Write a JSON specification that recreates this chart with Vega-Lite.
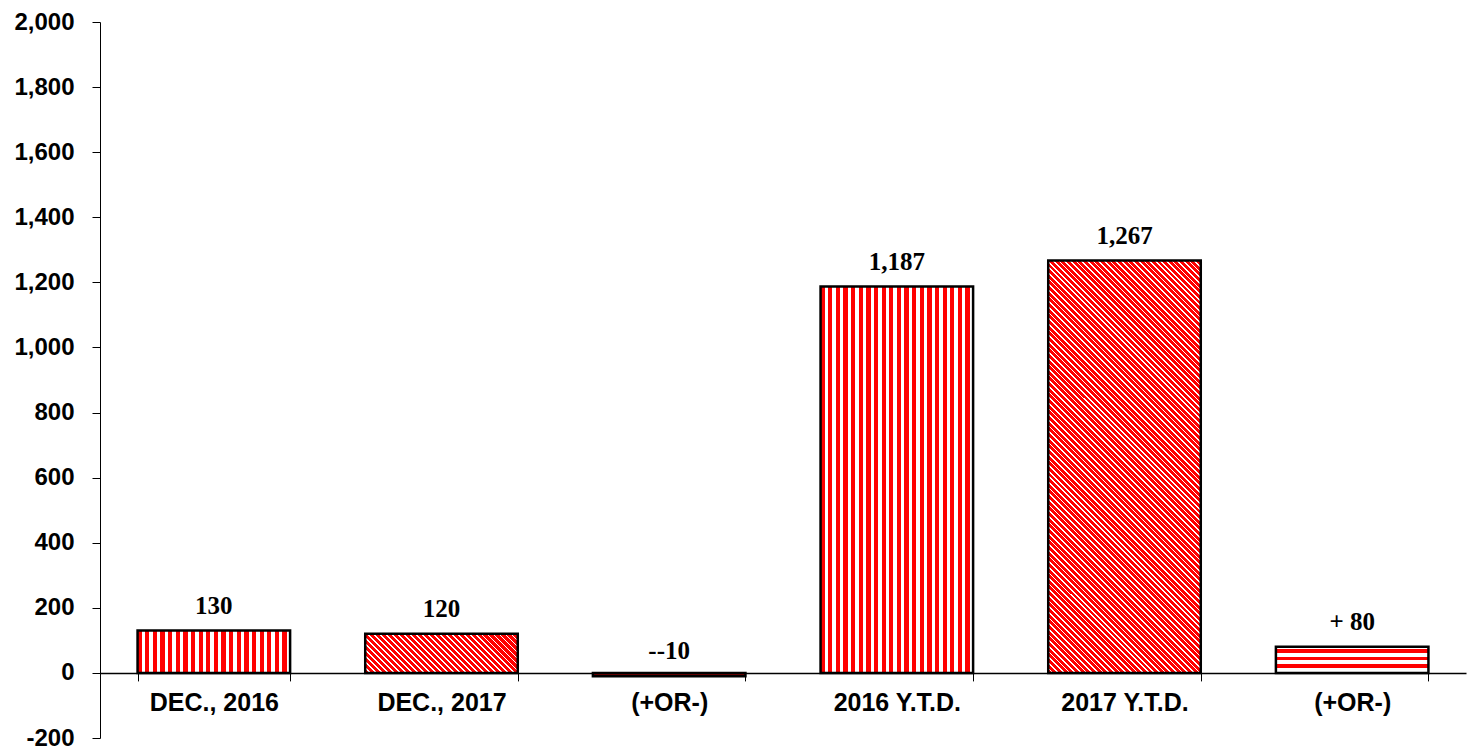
{
"$schema": "https://vega.github.io/schema/vega-lite/v6.json",
"width": 1366,
"height": 716,
"autosize": {"type": "none"},
"padding": {"left": 100, "top": 22, "right": 11, "bottom": 14},
"background": "white",
"config": {"view": {"stroke": null}},
"data": {"values": [
{"cat": "DEC., 2016", "value": 130, "label": "130"},
{"cat": "DEC., 2017", "value": 120, "label": "120"},
{"cat": "(+OR-)", "value": -10, "label": "--10"},
{"cat": "2016 Y.T.D.", "value": 1187, "label": "1,187"},
{"cat": "2017 Y.T.D.", "value": 1267, "label": "1,267"},
{"cat": "(+OR-) ", "value": 80, "label": "+ 80"}
]},
"encoding": {
"x": {"field": "cat", "type": "nominal", "title": null,
 "scale": {"domain": ["DEC., 2016", "DEC., 2017", "(+OR-)", "2016 Y.T.D.", "2017 Y.T.D.", "(+OR-) "], "paddingInner": 0.33, "paddingOuter": 0.165},
 "axis": {"orient": "bottom", "offset": -65.09, "domainColor": "black", "domainWidth": 1.5, "tickColor": "black", "tickSize": 8, "tickBand": "extent", "labelFont": "Liberation Sans", "labelFontWeight": "bold", "labelFontSize": 25, "labelColor": "black", "labelPadding": 10, "labelAngle": 0, "labelExpr": "trim(datum.label)"}},
"y": {"field": "value", "type": "quantitative", "title": null,
 "scale": {"domain": [-200, 2000], "nice": false},
 "axis": {"values": [-200, 0, 200, 400, 600, 800, 1000, 1200, 1400, 1600, 1800, 2000], "grid": false, "domainColor": "black", "tickColor": "black", "tickSize": 8, "labelFont": "Liberation Sans", "labelFontWeight": "bold", "labelFontSize": 24, "labelColor": "black", "labelPadding": 18, "labelExpr": "datum.value < 0 ? '-' + format(-datum.value, ',') : format(datum.value, ',')"}}
},
"layer": [
{"transform": [{"filter": "datum.cat == 'DEC., 2016' || datum.cat == '2016 Y.T.D.'"}],
 "mark": {"type": "bar", "stroke": "black", "strokeWidth": 2.5, "fill": {"gradient": "linear", "x1": 0, "y1": 0, "x2": 1, "y2": 0, "stops": [
{"offset":0,"color":"red"},{"offset":0.0275,"color":"red"},{"offset":0.0275,"color":"white"},{"offset":0.05,"color":"white"},
{"offset":0.05,"color":"red"},{"offset":0.0775,"color":"red"},{"offset":0.0775,"color":"white"},{"offset":0.1,"color":"white"},
{"offset":0.1,"color":"red"},{"offset":0.1275,"color":"red"},{"offset":0.1275,"color":"white"},{"offset":0.15,"color":"white"},
{"offset":0.15,"color":"red"},{"offset":0.1775,"color":"red"},{"offset":0.1775,"color":"white"},{"offset":0.2,"color":"white"},
{"offset":0.2,"color":"red"},{"offset":0.2275,"color":"red"},{"offset":0.2275,"color":"white"},{"offset":0.25,"color":"white"},
{"offset":0.25,"color":"red"},{"offset":0.2775,"color":"red"},{"offset":0.2775,"color":"white"},{"offset":0.3,"color":"white"},
{"offset":0.3,"color":"red"},{"offset":0.3275,"color":"red"},{"offset":0.3275,"color":"white"},{"offset":0.35,"color":"white"},
{"offset":0.35,"color":"red"},{"offset":0.3775,"color":"red"},{"offset":0.3775,"color":"white"},{"offset":0.4,"color":"white"},
{"offset":0.4,"color":"red"},{"offset":0.4275,"color":"red"},{"offset":0.4275,"color":"white"},{"offset":0.45,"color":"white"},
{"offset":0.45,"color":"red"},{"offset":0.4775,"color":"red"},{"offset":0.4775,"color":"white"},{"offset":0.5,"color":"white"},
{"offset":0.5,"color":"red"},{"offset":0.5275,"color":"red"},{"offset":0.5275,"color":"white"},{"offset":0.55,"color":"white"},
{"offset":0.55,"color":"red"},{"offset":0.5775,"color":"red"},{"offset":0.5775,"color":"white"},{"offset":0.6,"color":"white"},
{"offset":0.6,"color":"red"},{"offset":0.6275,"color":"red"},{"offset":0.6275,"color":"white"},{"offset":0.65,"color":"white"},
{"offset":0.65,"color":"red"},{"offset":0.6775,"color":"red"},{"offset":0.6775,"color":"white"},{"offset":0.7,"color":"white"},
{"offset":0.7,"color":"red"},{"offset":0.7275,"color":"red"},{"offset":0.7275,"color":"white"},{"offset":0.75,"color":"white"},
{"offset":0.75,"color":"red"},{"offset":0.7775,"color":"red"},{"offset":0.7775,"color":"white"},{"offset":0.8,"color":"white"},
{"offset":0.8,"color":"red"},{"offset":0.8275,"color":"red"},{"offset":0.8275,"color":"white"},{"offset":0.85,"color":"white"},
{"offset":0.85,"color":"red"},{"offset":0.8775,"color":"red"},{"offset":0.8775,"color":"white"},{"offset":0.9,"color":"white"},
{"offset":0.9,"color":"red"},{"offset":0.9275,"color":"red"},{"offset":0.9275,"color":"white"},{"offset":0.95,"color":"white"},
{"offset":0.95,"color":"red"},{"offset":0.9775,"color":"red"},{"offset":0.9775,"color":"white"},{"offset":1,"color":"white"}
]}}},
{"transform": [{"filter": "datum.cat == 'DEC., 2017'"}],
 "mark": {"type": "bar", "stroke": "black", "strokeWidth": 2.5, "fill": {"gradient": "linear", "x1": 0, "y1": 1, "x2": 1.1788, "y2": 0.6982, "stops": [
{"offset":0,"color":"red"},{"offset":0.021875,"color":"red"},{"offset":0.021875,"color":"white"},{"offset":0.03125,"color":"white"},
{"offset":0.03125,"color":"red"},{"offset":0.053125,"color":"red"},{"offset":0.053125,"color":"white"},{"offset":0.0625,"color":"white"},
{"offset":0.0625,"color":"red"},{"offset":0.084375,"color":"red"},{"offset":0.084375,"color":"white"},{"offset":0.09375,"color":"white"},
{"offset":0.09375,"color":"red"},{"offset":0.115625,"color":"red"},{"offset":0.115625,"color":"white"},{"offset":0.125,"color":"white"},
{"offset":0.125,"color":"red"},{"offset":0.146875,"color":"red"},{"offset":0.146875,"color":"white"},{"offset":0.15625,"color":"white"},
{"offset":0.15625,"color":"red"},{"offset":0.178125,"color":"red"},{"offset":0.178125,"color":"white"},{"offset":0.1875,"color":"white"},
{"offset":0.1875,"color":"red"},{"offset":0.209375,"color":"red"},{"offset":0.209375,"color":"white"},{"offset":0.21875,"color":"white"},
{"offset":0.21875,"color":"red"},{"offset":0.240625,"color":"red"},{"offset":0.240625,"color":"white"},{"offset":0.25,"color":"white"},
{"offset":0.25,"color":"red"},{"offset":0.271875,"color":"red"},{"offset":0.271875,"color":"white"},{"offset":0.28125,"color":"white"},
{"offset":0.28125,"color":"red"},{"offset":0.303125,"color":"red"},{"offset":0.303125,"color":"white"},{"offset":0.3125,"color":"white"},
{"offset":0.3125,"color":"red"},{"offset":0.334375,"color":"red"},{"offset":0.334375,"color":"white"},{"offset":0.34375,"color":"white"},
{"offset":0.34375,"color":"red"},{"offset":0.365625,"color":"red"},{"offset":0.365625,"color":"white"},{"offset":0.375,"color":"white"},
{"offset":0.375,"color":"red"},{"offset":0.396875,"color":"red"},{"offset":0.396875,"color":"white"},{"offset":0.40625,"color":"white"},
{"offset":0.40625,"color":"red"},{"offset":0.428125,"color":"red"},{"offset":0.428125,"color":"white"},{"offset":0.4375,"color":"white"},
{"offset":0.4375,"color":"red"},{"offset":0.459375,"color":"red"},{"offset":0.459375,"color":"white"},{"offset":0.46875,"color":"white"},
{"offset":0.46875,"color":"red"},{"offset":0.490625,"color":"red"},{"offset":0.490625,"color":"white"},{"offset":0.5,"color":"white"},
{"offset":0.5,"color":"red"},{"offset":0.521875,"color":"red"},{"offset":0.521875,"color":"white"},{"offset":0.53125,"color":"white"},
{"offset":0.53125,"color":"red"},{"offset":0.553125,"color":"red"},{"offset":0.553125,"color":"white"},{"offset":0.5625,"color":"white"},
{"offset":0.5625,"color":"red"},{"offset":0.584375,"color":"red"},{"offset":0.584375,"color":"white"},{"offset":0.59375,"color":"white"},
{"offset":0.59375,"color":"red"},{"offset":0.615625,"color":"red"},{"offset":0.615625,"color":"white"},{"offset":0.625,"color":"white"},
{"offset":0.625,"color":"red"},{"offset":0.646875,"color":"red"},{"offset":0.646875,"color":"white"},{"offset":0.65625,"color":"white"},
{"offset":0.65625,"color":"red"},{"offset":0.678125,"color":"red"},{"offset":0.678125,"color":"white"},{"offset":0.6875,"color":"white"},
{"offset":0.6875,"color":"red"},{"offset":0.709375,"color":"red"},{"offset":0.709375,"color":"white"},{"offset":0.71875,"color":"white"},
{"offset":0.71875,"color":"red"},{"offset":0.740625,"color":"red"},{"offset":0.740625,"color":"white"},{"offset":0.75,"color":"white"},
{"offset":0.75,"color":"red"},{"offset":0.771875,"color":"red"},{"offset":0.771875,"color":"white"},{"offset":0.78125,"color":"white"},
{"offset":0.78125,"color":"red"},{"offset":0.803125,"color":"red"},{"offset":0.803125,"color":"white"},{"offset":0.8125,"color":"white"},
{"offset":0.8125,"color":"red"},{"offset":0.834375,"color":"red"},{"offset":0.834375,"color":"white"},{"offset":0.84375,"color":"white"},
{"offset":0.84375,"color":"red"},{"offset":0.865625,"color":"red"},{"offset":0.865625,"color":"white"},{"offset":0.875,"color":"white"},
{"offset":0.875,"color":"red"},{"offset":0.896875,"color":"red"},{"offset":0.896875,"color":"white"},{"offset":0.90625,"color":"white"},
{"offset":0.90625,"color":"red"},{"offset":0.928125,"color":"red"},{"offset":0.928125,"color":"white"},{"offset":0.9375,"color":"white"},
{"offset":0.9375,"color":"red"},{"offset":0.959375,"color":"red"},{"offset":0.959375,"color":"white"},{"offset":0.96875,"color":"white"},
{"offset":0.96875,"color":"red"},{"offset":0.990625,"color":"red"},{"offset":0.990625,"color":"white"},{"offset":1,"color":"white"}
]}}},
{"transform": [{"filter": "datum.cat == '2017 Y.T.D.'"}],
 "mark": {"type": "bar", "stroke": "black", "strokeWidth": 2.5, "fill": {"gradient": "linear", "x1": 0, "y1": 1, "x2": 0.4457, "y2": -0.205, "stops": [
{"offset":0.00,"color":"red"},{"offset":0.007,"color":"red"},{"offset":0.007,"color":"white"},{"offset":0.01,"color":"white"},
{"offset":0.01,"color":"red"},{"offset":0.017,"color":"red"},{"offset":0.017,"color":"white"},{"offset":0.02,"color":"white"},
{"offset":0.02,"color":"red"},{"offset":0.027,"color":"red"},{"offset":0.027,"color":"white"},{"offset":0.03,"color":"white"},
{"offset":0.03,"color":"red"},{"offset":0.037,"color":"red"},{"offset":0.037,"color":"white"},{"offset":0.04,"color":"white"},
{"offset":0.04,"color":"red"},{"offset":0.047,"color":"red"},{"offset":0.047,"color":"white"},{"offset":0.05,"color":"white"},
{"offset":0.05,"color":"red"},{"offset":0.057,"color":"red"},{"offset":0.057,"color":"white"},{"offset":0.06,"color":"white"},
{"offset":0.06,"color":"red"},{"offset":0.067,"color":"red"},{"offset":0.067,"color":"white"},{"offset":0.07,"color":"white"},
{"offset":0.07,"color":"red"},{"offset":0.077,"color":"red"},{"offset":0.077,"color":"white"},{"offset":0.08,"color":"white"},
{"offset":0.08,"color":"red"},{"offset":0.087,"color":"red"},{"offset":0.087,"color":"white"},{"offset":0.09,"color":"white"},
{"offset":0.09,"color":"red"},{"offset":0.097,"color":"red"},{"offset":0.097,"color":"white"},{"offset":0.10,"color":"white"},
{"offset":0.10,"color":"red"},{"offset":0.107,"color":"red"},{"offset":0.107,"color":"white"},{"offset":0.11,"color":"white"},
{"offset":0.11,"color":"red"},{"offset":0.117,"color":"red"},{"offset":0.117,"color":"white"},{"offset":0.12,"color":"white"},
{"offset":0.12,"color":"red"},{"offset":0.127,"color":"red"},{"offset":0.127,"color":"white"},{"offset":0.13,"color":"white"},
{"offset":0.13,"color":"red"},{"offset":0.137,"color":"red"},{"offset":0.137,"color":"white"},{"offset":0.14,"color":"white"},
{"offset":0.14,"color":"red"},{"offset":0.147,"color":"red"},{"offset":0.147,"color":"white"},{"offset":0.15,"color":"white"},
{"offset":0.15,"color":"red"},{"offset":0.157,"color":"red"},{"offset":0.157,"color":"white"},{"offset":0.16,"color":"white"},
{"offset":0.16,"color":"red"},{"offset":0.167,"color":"red"},{"offset":0.167,"color":"white"},{"offset":0.17,"color":"white"},
{"offset":0.17,"color":"red"},{"offset":0.177,"color":"red"},{"offset":0.177,"color":"white"},{"offset":0.18,"color":"white"},
{"offset":0.18,"color":"red"},{"offset":0.187,"color":"red"},{"offset":0.187,"color":"white"},{"offset":0.19,"color":"white"},
{"offset":0.19,"color":"red"},{"offset":0.197,"color":"red"},{"offset":0.197,"color":"white"},{"offset":0.20,"color":"white"},
{"offset":0.20,"color":"red"},{"offset":0.207,"color":"red"},{"offset":0.207,"color":"white"},{"offset":0.21,"color":"white"},
{"offset":0.21,"color":"red"},{"offset":0.217,"color":"red"},{"offset":0.217,"color":"white"},{"offset":0.22,"color":"white"},
{"offset":0.22,"color":"red"},{"offset":0.227,"color":"red"},{"offset":0.227,"color":"white"},{"offset":0.23,"color":"white"},
{"offset":0.23,"color":"red"},{"offset":0.237,"color":"red"},{"offset":0.237,"color":"white"},{"offset":0.24,"color":"white"},
{"offset":0.24,"color":"red"},{"offset":0.247,"color":"red"},{"offset":0.247,"color":"white"},{"offset":0.25,"color":"white"},
{"offset":0.25,"color":"red"},{"offset":0.257,"color":"red"},{"offset":0.257,"color":"white"},{"offset":0.26,"color":"white"},
{"offset":0.26,"color":"red"},{"offset":0.267,"color":"red"},{"offset":0.267,"color":"white"},{"offset":0.27,"color":"white"},
{"offset":0.27,"color":"red"},{"offset":0.277,"color":"red"},{"offset":0.277,"color":"white"},{"offset":0.28,"color":"white"},
{"offset":0.28,"color":"red"},{"offset":0.287,"color":"red"},{"offset":0.287,"color":"white"},{"offset":0.29,"color":"white"},
{"offset":0.29,"color":"red"},{"offset":0.297,"color":"red"},{"offset":0.297,"color":"white"},{"offset":0.30,"color":"white"},
{"offset":0.30,"color":"red"},{"offset":0.307,"color":"red"},{"offset":0.307,"color":"white"},{"offset":0.31,"color":"white"},
{"offset":0.31,"color":"red"},{"offset":0.317,"color":"red"},{"offset":0.317,"color":"white"},{"offset":0.32,"color":"white"},
{"offset":0.32,"color":"red"},{"offset":0.327,"color":"red"},{"offset":0.327,"color":"white"},{"offset":0.33,"color":"white"},
{"offset":0.33,"color":"red"},{"offset":0.337,"color":"red"},{"offset":0.337,"color":"white"},{"offset":0.34,"color":"white"},
{"offset":0.34,"color":"red"},{"offset":0.347,"color":"red"},{"offset":0.347,"color":"white"},{"offset":0.35,"color":"white"},
{"offset":0.35,"color":"red"},{"offset":0.357,"color":"red"},{"offset":0.357,"color":"white"},{"offset":0.36,"color":"white"},
{"offset":0.36,"color":"red"},{"offset":0.367,"color":"red"},{"offset":0.367,"color":"white"},{"offset":0.37,"color":"white"},
{"offset":0.37,"color":"red"},{"offset":0.377,"color":"red"},{"offset":0.377,"color":"white"},{"offset":0.38,"color":"white"},
{"offset":0.38,"color":"red"},{"offset":0.387,"color":"red"},{"offset":0.387,"color":"white"},{"offset":0.39,"color":"white"},
{"offset":0.39,"color":"red"},{"offset":0.397,"color":"red"},{"offset":0.397,"color":"white"},{"offset":0.40,"color":"white"},
{"offset":0.40,"color":"red"},{"offset":0.407,"color":"red"},{"offset":0.407,"color":"white"},{"offset":0.41,"color":"white"},
{"offset":0.41,"color":"red"},{"offset":0.417,"color":"red"},{"offset":0.417,"color":"white"},{"offset":0.42,"color":"white"},
{"offset":0.42,"color":"red"},{"offset":0.427,"color":"red"},{"offset":0.427,"color":"white"},{"offset":0.43,"color":"white"},
{"offset":0.43,"color":"red"},{"offset":0.437,"color":"red"},{"offset":0.437,"color":"white"},{"offset":0.44,"color":"white"},
{"offset":0.44,"color":"red"},{"offset":0.447,"color":"red"},{"offset":0.447,"color":"white"},{"offset":0.45,"color":"white"},
{"offset":0.45,"color":"red"},{"offset":0.457,"color":"red"},{"offset":0.457,"color":"white"},{"offset":0.46,"color":"white"},
{"offset":0.46,"color":"red"},{"offset":0.467,"color":"red"},{"offset":0.467,"color":"white"},{"offset":0.47,"color":"white"},
{"offset":0.47,"color":"red"},{"offset":0.477,"color":"red"},{"offset":0.477,"color":"white"},{"offset":0.48,"color":"white"},
{"offset":0.48,"color":"red"},{"offset":0.487,"color":"red"},{"offset":0.487,"color":"white"},{"offset":0.49,"color":"white"},
{"offset":0.49,"color":"red"},{"offset":0.497,"color":"red"},{"offset":0.497,"color":"white"},{"offset":0.50,"color":"white"},
{"offset":0.50,"color":"red"},{"offset":0.507,"color":"red"},{"offset":0.507,"color":"white"},{"offset":0.51,"color":"white"},
{"offset":0.51,"color":"red"},{"offset":0.517,"color":"red"},{"offset":0.517,"color":"white"},{"offset":0.52,"color":"white"},
{"offset":0.52,"color":"red"},{"offset":0.527,"color":"red"},{"offset":0.527,"color":"white"},{"offset":0.53,"color":"white"},
{"offset":0.53,"color":"red"},{"offset":0.537,"color":"red"},{"offset":0.537,"color":"white"},{"offset":0.54,"color":"white"},
{"offset":0.54,"color":"red"},{"offset":0.547,"color":"red"},{"offset":0.547,"color":"white"},{"offset":0.55,"color":"white"},
{"offset":0.55,"color":"red"},{"offset":0.557,"color":"red"},{"offset":0.557,"color":"white"},{"offset":0.56,"color":"white"},
{"offset":0.56,"color":"red"},{"offset":0.567,"color":"red"},{"offset":0.567,"color":"white"},{"offset":0.57,"color":"white"},
{"offset":0.57,"color":"red"},{"offset":0.577,"color":"red"},{"offset":0.577,"color":"white"},{"offset":0.58,"color":"white"},
{"offset":0.58,"color":"red"},{"offset":0.587,"color":"red"},{"offset":0.587,"color":"white"},{"offset":0.59,"color":"white"},
{"offset":0.59,"color":"red"},{"offset":0.597,"color":"red"},{"offset":0.597,"color":"white"},{"offset":0.60,"color":"white"},
{"offset":0.60,"color":"red"},{"offset":0.607,"color":"red"},{"offset":0.607,"color":"white"},{"offset":0.61,"color":"white"},
{"offset":0.61,"color":"red"},{"offset":0.617,"color":"red"},{"offset":0.617,"color":"white"},{"offset":0.62,"color":"white"},
{"offset":0.62,"color":"red"},{"offset":0.627,"color":"red"},{"offset":0.627,"color":"white"},{"offset":0.63,"color":"white"},
{"offset":0.63,"color":"red"},{"offset":0.637,"color":"red"},{"offset":0.637,"color":"white"},{"offset":0.64,"color":"white"},
{"offset":0.64,"color":"red"},{"offset":0.647,"color":"red"},{"offset":0.647,"color":"white"},{"offset":0.65,"color":"white"},
{"offset":0.65,"color":"red"},{"offset":0.657,"color":"red"},{"offset":0.657,"color":"white"},{"offset":0.66,"color":"white"},
{"offset":0.66,"color":"red"},{"offset":0.667,"color":"red"},{"offset":0.667,"color":"white"},{"offset":0.67,"color":"white"},
{"offset":0.67,"color":"red"},{"offset":0.677,"color":"red"},{"offset":0.677,"color":"white"},{"offset":0.68,"color":"white"},
{"offset":0.68,"color":"red"},{"offset":0.687,"color":"red"},{"offset":0.687,"color":"white"},{"offset":0.69,"color":"white"},
{"offset":0.69,"color":"red"},{"offset":0.697,"color":"red"},{"offset":0.697,"color":"white"},{"offset":0.70,"color":"white"},
{"offset":0.70,"color":"red"},{"offset":0.707,"color":"red"},{"offset":0.707,"color":"white"},{"offset":0.71,"color":"white"},
{"offset":0.71,"color":"red"},{"offset":0.717,"color":"red"},{"offset":0.717,"color":"white"},{"offset":0.72,"color":"white"},
{"offset":0.72,"color":"red"},{"offset":0.727,"color":"red"},{"offset":0.727,"color":"white"},{"offset":0.73,"color":"white"},
{"offset":0.73,"color":"red"},{"offset":0.737,"color":"red"},{"offset":0.737,"color":"white"},{"offset":0.74,"color":"white"},
{"offset":0.74,"color":"red"},{"offset":0.747,"color":"red"},{"offset":0.747,"color":"white"},{"offset":0.75,"color":"white"},
{"offset":0.75,"color":"red"},{"offset":0.757,"color":"red"},{"offset":0.757,"color":"white"},{"offset":0.76,"color":"white"},
{"offset":0.76,"color":"red"},{"offset":0.767,"color":"red"},{"offset":0.767,"color":"white"},{"offset":0.77,"color":"white"},
{"offset":0.77,"color":"red"},{"offset":0.777,"color":"red"},{"offset":0.777,"color":"white"},{"offset":0.78,"color":"white"},
{"offset":0.78,"color":"red"},{"offset":0.787,"color":"red"},{"offset":0.787,"color":"white"},{"offset":0.79,"color":"white"},
{"offset":0.79,"color":"red"},{"offset":0.797,"color":"red"},{"offset":0.797,"color":"white"},{"offset":0.80,"color":"white"},
{"offset":0.80,"color":"red"},{"offset":0.807,"color":"red"},{"offset":0.807,"color":"white"},{"offset":0.81,"color":"white"},
{"offset":0.81,"color":"red"},{"offset":0.817,"color":"red"},{"offset":0.817,"color":"white"},{"offset":0.82,"color":"white"},
{"offset":0.82,"color":"red"},{"offset":0.827,"color":"red"},{"offset":0.827,"color":"white"},{"offset":0.83,"color":"white"},
{"offset":0.83,"color":"red"},{"offset":0.837,"color":"red"},{"offset":0.837,"color":"white"},{"offset":0.84,"color":"white"},
{"offset":0.84,"color":"red"},{"offset":0.847,"color":"red"},{"offset":0.847,"color":"white"},{"offset":0.85,"color":"white"},
{"offset":0.85,"color":"red"},{"offset":0.857,"color":"red"},{"offset":0.857,"color":"white"},{"offset":0.86,"color":"white"},
{"offset":0.86,"color":"red"},{"offset":0.867,"color":"red"},{"offset":0.867,"color":"white"},{"offset":0.87,"color":"white"},
{"offset":0.87,"color":"red"},{"offset":0.877,"color":"red"},{"offset":0.877,"color":"white"},{"offset":0.88,"color":"white"},
{"offset":0.88,"color":"red"},{"offset":0.887,"color":"red"},{"offset":0.887,"color":"white"},{"offset":0.89,"color":"white"},
{"offset":0.89,"color":"red"},{"offset":0.897,"color":"red"},{"offset":0.897,"color":"white"},{"offset":0.90,"color":"white"},
{"offset":0.90,"color":"red"},{"offset":0.907,"color":"red"},{"offset":0.907,"color":"white"},{"offset":0.91,"color":"white"},
{"offset":0.91,"color":"red"},{"offset":0.917,"color":"red"},{"offset":0.917,"color":"white"},{"offset":0.92,"color":"white"},
{"offset":0.92,"color":"red"},{"offset":0.927,"color":"red"},{"offset":0.927,"color":"white"},{"offset":0.93,"color":"white"},
{"offset":0.93,"color":"red"},{"offset":0.937,"color":"red"},{"offset":0.937,"color":"white"},{"offset":0.94,"color":"white"},
{"offset":0.94,"color":"red"},{"offset":0.947,"color":"red"},{"offset":0.947,"color":"white"},{"offset":0.95,"color":"white"},
{"offset":0.95,"color":"red"},{"offset":0.957,"color":"red"},{"offset":0.957,"color":"white"},{"offset":0.96,"color":"white"},
{"offset":0.96,"color":"red"},{"offset":0.967,"color":"red"},{"offset":0.967,"color":"white"},{"offset":0.97,"color":"white"},
{"offset":0.97,"color":"red"},{"offset":0.977,"color":"red"},{"offset":0.977,"color":"white"},{"offset":0.98,"color":"white"},
{"offset":0.98,"color":"red"},{"offset":0.987,"color":"red"},{"offset":0.987,"color":"white"},{"offset":0.99,"color":"white"},
{"offset":0.99,"color":"red"},{"offset":0.997,"color":"red"},{"offset":0.997,"color":"white"},{"offset":1,"color":"white"}
]}}},
{"transform": [{"filter": "datum.cat == '(+OR-)'"}],
 "mark": {"type": "bar", "stroke": "black", "strokeWidth": 2.5, "fill": "#800000"}},
{"transform": [{"filter": "datum.cat == '(+OR-) '"}],
 "mark": {"type": "bar", "stroke": "black", "strokeWidth": 2.5, "fill": {"gradient": "linear", "x1": 0, "y1": 0, "x2": 0, "y2": 1, "stops": [
{"offset":0,"color":"white"},{"offset":0.1,"color":"white"},{"offset":0.1,"color":"red"},{"offset":0.24,"color":"red"},
{"offset":0.24,"color":"white"},{"offset":0.4,"color":"white"},{"offset":0.4,"color":"red"},{"offset":0.52,"color":"red"},
{"offset":0.52,"color":"white"},{"offset":0.67,"color":"white"},{"offset":0.67,"color":"red"},{"offset":0.82,"color":"red"},
{"offset":0.82,"color":"white"},{"offset":1,"color":"white"}
]}}},
{"mark": {"type": "text", "font": "Liberation Serif", "fontWeight": "bold", "fontSize": 25, "baseline": "alphabetic", "dy": -17, "color": "black"},
 "encoding": {"text": {"field": "label"}}}
]
}
